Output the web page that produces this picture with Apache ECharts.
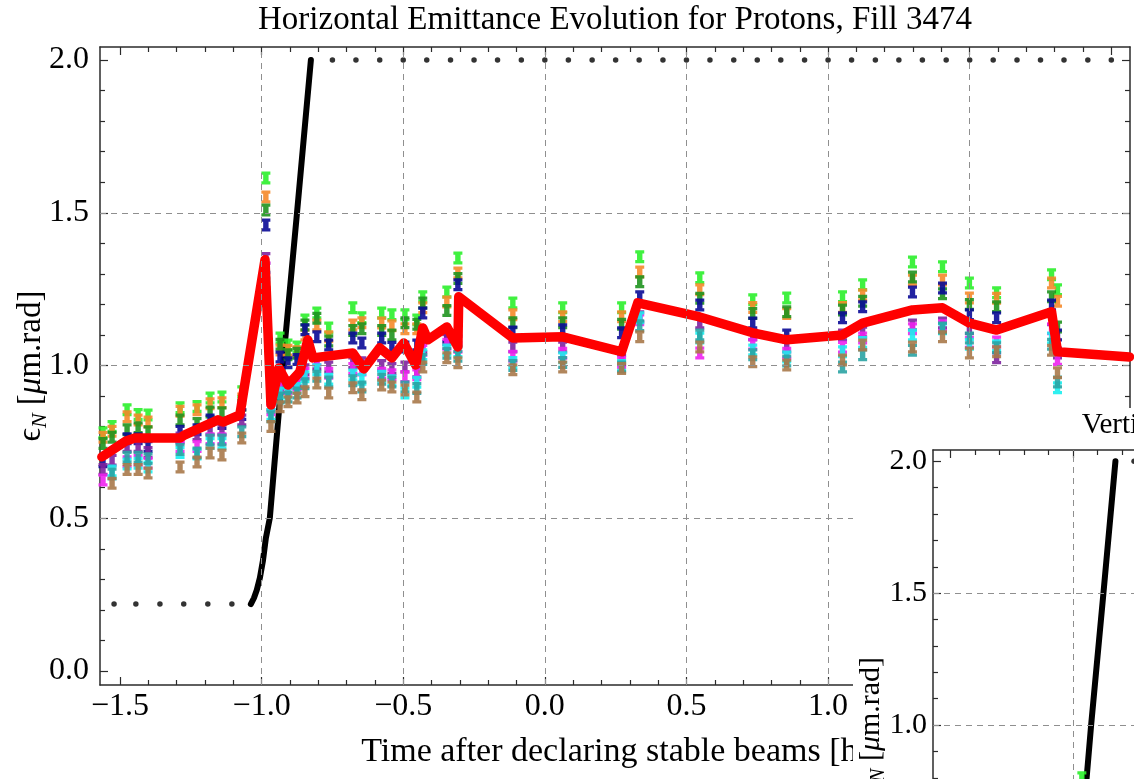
<!DOCTYPE html>
<html>
<head>
<meta charset="utf-8">
<script src="https://cdn.jsdelivr.net/npm/echarts@6/dist/echarts.min.js"></script>
<style>
  html, body { margin: 0; padding: 0; background: #fff; overflow: hidden; }
  #main { position: absolute; left: 0; top: 0; width: 1134px; height: 779px; }
  #inset { position: absolute; left: 853px; top: 408px; width: 1000px; height: 700px; background: #fff; }
</style>
</head>
<body>
<div id="main"></div>
<div id="inset"></div>
<script>
const FONT = "'Liberation Serif', 'Times New Roman', serif"
const X_MIN = -1.5706
const X_MAX = 2.066
const Y_MIN = -0.0458
const Y_MAX = 2.0426

// frame ticks and grid lines
const majorX = [-1.5, -1.0, -0.5, 0.0, 0.5, 1.0, 1.5, 2.0]
const minorX = [-1.4, -1.3, -1.2, -1.1, -0.9, -0.8, -0.7, -0.6, -0.4, -0.3, -0.2, -0.1,
  0.1, 0.2, 0.3, 0.4, 0.6, 0.7, 0.8, 0.9, 1.1, 1.2, 1.3, 1.4, 1.6, 1.7, 1.8, 1.9]
const majorY = [0.0, 0.5, 1.0, 1.5, 2.0]
const minorY = [0.1, 0.2, 0.3, 0.4, 0.6, 0.7, 0.8, 0.9, 1.1, 1.2, 1.3, 1.4, 1.6, 1.7, 1.8, 1.9]
const gridX = [-1.0, -0.5, 0.0, 0.5, 1.0, 1.5]
const gridY = [0.5, 1.0, 1.5]

// black ramp curve and its flat dotted parts
const rampT = [-1.038, -1.027, -1.017, -1.006, -0.995, -0.985, -0.971, -0.925, -0.875, -0.826]
const rampE = [0.219, 0.239, 0.265, 0.305, 0.363, 0.435, 0.501, 1.002, 1.500, 2.000]
const lowDotT = [-1.521, -1.444, -1.359, -1.275, -1.190, -1.105]
const lowDotE = 0.219
const highDotT = [-0.75, -0.667, -0.583, -0.5, -0.417, -0.333, -0.25, -0.167, -0.083, 0, 0.083, 0.167,
  0.25, 0.333, 0.417, 0.5, 0.583, 0.667, 0.75, 0.833, 0.917, 1.0, 1.083, 1.167, 1.25, 1.333,
  1.417, 1.5, 1.583, 1.667, 1.75, 1.833, 1.917, 2.0]
const highDotE = 2.0

// horizontal emittance per bunch group, one value per time column
const times = [-1.560, -1.528, -1.475, -1.436, -1.401, -1.288, -1.228, -1.182, -1.140, -1.070,
  -0.985, -0.967, -0.935, -0.907, -0.875, -0.847, -0.805, -0.763, -0.678, -0.646,
  -0.576, -0.540, -0.494, -0.452, -0.431, -0.346, -0.307, -0.113, 0.063, 0.271,
  0.335, 0.547, 0.734, 0.854, 1.051, 1.122, 1.298, 1.404, 1.499, 1.595, 1.789, 1.810]
const hLime = [0.78, 0.80, 0.855, 0.84, 0.838, 0.862, 0.866, 0.894, 0.897, 0.914,
  1.614, null, 1.09, 1.067, 1.061, 1.149, 1.172, 1.123, 1.189, 1.156,
  1.172, 1.166, 1.166, 1.149, 1.225, 1.241, 1.352, 1.205, 1.189, 1.189,
  1.356, 1.287, 1.215, 1.221, 1.225, 1.264, 1.339, 1.323, 1.27, 1.238, 1.297, 1.248]
const hOrange = [0.765, 0.785, 0.832, 0.822, 0.815, 0.85, 0.855, 0.875, 0.878, 0.89,
  1.552, null, 1.051, 1.05, 1.045, 1.10, 1.133, 1.094, 1.133, 1.14,
  1.139, 1.13, 1.12, 1.12, 1.189, 1.208, 1.303, 1.166, 1.16, 1.16,
  1.306, 1.248, 1.19, 1.17, 1.19, 1.231, 1.28, 1.28, 1.221, 1.22, 1.27, 1.21]
const hGreen = [0.745, 0.765, 0.79, 0.796, 0.783, 0.822, 0.81, 0.848, 0.845, 0.87,
  1.509, null, 1.07, 1.035, 1.04, 1.133, 1.155, 1.08, 1.115, 1.12,
  1.115, 1.10, 1.14, 1.135, 1.205, 1.18, 1.285, 1.14, 1.14, 1.135,
  1.274, 1.22, 1.17, 1.176, 1.182, 1.21, 1.29, 1.235, 1.20, 1.192, 1.225, 1.126]
const hNavy = [0.685, null, 0.76, 0.76, 0.735, 0.785, 0.79, 0.822, 0.81, 0.84,
  1.46, 0.90, 1.028, 1.009, 1.02, 1.117, 1.094, 1.067, 1.09, 1.074,
  1.09, 1.06, 1.061, 1.067, 1.172, 1.094, 1.264, 1.11, 1.117, 1.107,
  1.225, 1.198, 1.139, 1.10, 1.156, 1.192, 1.241, 1.254, 1.166, 1.156, 1.198, 1.10]
const hPurple = [0.66, 0.69, 0.735, 0.735, 0.715, 0.763, 0.773, 0.789, 0.789, 0.822,
  1.35, 0.871, 0.953, 0.943, 0.95, 0.986, 1.005, 0.995, 1.009, 1.009,
  1.0, 0.99, 0.995, 0.979, 1.061, 1.085, 1.08, 1.061, 1.061, 1.018,
  1.16, 1.139, 1.10, 1.061, 1.10, 1.11, 1.133, 1.139, 1.12, 1.025, 1.15, 1.041]
const hMagenta = [0.625, null, 0.685, 0.69, 0.68, 0.735, 0.735, 0.76, 0.76, null,
  1.32, 0.855, 0.93, 0.925, 0.936, 0.975, 1.018, 0.975, 0.99, 0.985,
  0.975, 0.97, 0.963, 0.97, 1.05, 1.07, 1.06, 1.03, 1.04, 1.01,
  1.15, 1.041, 1.07, 1.04, 1.06, 1.09, 1.12, 1.13, 1.075, 1.077, 1.12, 1.02]
const hCyan = [null, 0.655, 0.678, 0.68, 0.668, 0.715, 0.71, 0.745, 0.745, null,
  1.29, 0.84, 0.91, 0.91, 0.925, 0.963, 0.986, 0.955, 0.969, 0.955,
  0.965, 0.95, 0.91, 0.945, 1.035, 1.051, 1.045, 1.01, 1.025, 1.0,
  1.156, 1.09, 1.051, 1.028, 1.045, 1.075, 1.10, 1.12, 1.07, 1.065, 1.09, 0.927]
const hTeal = [null, 0.645, 0.70, 0.70, 0.695, 0.725, 0.714, 0.756, 0.756, 0.783,
  1.27, 0.832, 0.894, 0.897, 0.91, 0.94, 0.965, 0.946, 0.95, 0.93,
  0.955, 0.946, 0.93, 0.925, 1.02, 1.04, 1.03, 1.0, 1.01, 0.995,
  1.13, 1.10, 1.035, 1.015, 0.995, 1.035, 1.05, 1.123, 1.09, 1.058, 1.07, 0.946]
const hBrown = [null, 0.615, 0.66, 0.66, 0.648, 0.668, 0.684, 0.714, 0.707, 0.763,
  1.24, 0.80, 0.865, 0.881, 0.894, 0.914, 0.943, 0.91, 0.927, 0.904,
  0.936, 0.93, 0.92, 0.897, 0.995, 1.025, 1.009, 0.986, 0.995, 0.99,
  1.094, 1.061, 1.012, 1.002, 1.018, 1.067, 1.061, 1.094, 1.041, 1.045, 1.05, 0.976]

// average (red line)
const avgT = [-1.564, -1.479, -1.447, -1.288, -1.271, -1.154, -1.137, -1.077, -0.988, -0.967,
  -0.939, -0.907, -0.865, -0.837, -0.819, -0.678, -0.639, -0.583, -0.540, -0.498,
  -0.456, -0.431, -0.413, -0.346, -0.307, -0.304, -0.113, 0.063, 0.271, 0.328,
  0.547, 0.734, 0.854, 1.051, 1.122, 1.298, 1.404, 1.499, 1.595, 1.789, 1.810, 2.064]
const avgE = [0.701, 0.753, 0.763, 0.763, 0.773, 0.822, 0.815, 0.838, 1.346, 0.871,
  0.992, 0.936, 0.979, 1.084, 1.025, 1.041, 0.989, 1.058, 1.025, 1.074,
  1.002, 1.123, 1.084, 1.126, 1.061, 1.225, 1.090, 1.094, 1.045, 1.205,
  1.159, 1.107, 1.084, 1.100, 1.139, 1.182, 1.189, 1.139, 1.116, 1.176, 1.045, 1.028]

// vertical plot (inset): only the top of one marker is in view
const vTimes = [-0.963]
const vLime = [0.80]

const groups = [
  { color: '#2bf02b', values: hLime },
  { color: '#f5892a', values: hOrange },
  { color: '#1f941f', values: hGreen },
  { color: '#0a0a96', values: hNavy },
  { color: '#7d229e', values: hPurple },
  { color: '#ee22ee', values: hMagenta },
  { color: '#19eeee', values: hCyan },
  { color: '#2aa3a3', values: hTeal },
  { color: '#a8794a', values: hBrown }
]

const beam = 'path://M0 0H10V2.5H8V7.5H10V10H0V7.5H2V2.5H0Z'

function fmt(v) {
  return (v < 0 ? '\u2212' : '') + Math.abs(v).toFixed(1)
}

function pairs(xs, ys) {
  const out = []
  xs.forEach((x, i) => {
    if (ys[i] !== null && ys[i] !== undefined) out.push([x, ys[i]])
  })
  return out
}

function frameAxes(dim, o) {
  const isX = dim === 'x'
  const pos = isX ? ['bottom', 'top'] : ['left', 'right']
  const major = isX ? majorX : majorY
  const minor = isX ? minorX : minorY
  const tickStyle = { color: '#2b2b2b', width: 1.2 }
  const list = []
  pos.forEach((p, i) => {
    const labelled = i === 0
    list.push(Object.assign({
      type: 'value',
      position: p,
      min: isX ? X_MIN : Y_MIN,
      max: isX ? X_MAX : Y_MAX,
      nameMoveOverlap: false,
      axisLine: { show: true, onZero: false, lineStyle: { color: '#2b2b2b', width: 1.5 } },
      axisTick: { show: true, inside: true, length: 8, customValues: major, lineStyle: tickStyle },
      axisLabel: labelled
        ? { show: true, customValues: major, formatter: fmt, fontFamily: FONT, fontSize: o.font, color: '#000', margin: isX ? o.xMargin : o.yMargin }
        : { show: false },
      splitLine: { show: false }
    }, labelled ? o.names[dim] : {}))
    list.push({
      type: 'value',
      position: p,
      min: isX ? X_MIN : Y_MIN,
      max: isX ? X_MAX : Y_MAX,
      axisLine: { show: false, onZero: false },
      axisTick: { show: true, inside: true, length: 5, customValues: minor, lineStyle: tickStyle },
      axisLabel: { show: false },
      splitLine: { show: false }
    })
  })
  return list
}

function yName(size, gap) {
  return {
    name: '{e|\u03f5}{s|N} [{m|\u03bc}m.rad]',
    nameLocation: 'middle',
    nameGap: gap,
    nameTextStyle: {
      fontFamily: FONT, fontSize: size, color: '#000', lineHeight: size + 6,
      rich: {
        e: { fontFamily: FONT, fontSize: size, lineHeight: size + 6 },
        s: { fontFamily: FONT, fontSize: Math.round(size * 0.66), fontStyle: 'italic', lineHeight: Math.round(size * 0.6), verticalAlign: 'bottom' },
        m: { fontFamily: FONT, fontSize: size, fontStyle: 'italic', lineHeight: size + 6 }
      }
    }
  }
}

function xName(size, gap) {
  return {
    name: 'Time after declaring stable beams [h]',
    nameLocation: 'middle',
    nameGap: gap,
    nameTextStyle: { fontFamily: FONT, fontSize: size, color: '#000' }
  }
}

function baseSeries() {
  return [
    {
      type: 'line',
      data: [],
      z: 1,
      silent: true,
      markLine: {
        silent: true,
        animation: false,
        symbol: ['none', 'none'],
        label: { show: false },
        lineStyle: { color: '#8f8f8f', type: [6, 5], width: 1 },
        data: gridX.map((v) => ({ xAxis: v })).concat(gridY.map((v) => ({ yAxis: v })))
      }
    },
    {
      type: 'line',
      data: pairs(rampT, rampE),
      z: 2,
      showSymbol: false,
      lineStyle: { color: '#000', width: 6, cap: 'round', join: 'round' }
    },
    {
      type: 'scatter',
      data: lowDotT.map((t) => [t, lowDotE]).concat(highDotT.map((t) => [t, highDotE])),
      z: 2,
      symbol: 'circle',
      symbolSize: 5.5,
      itemStyle: { color: '#000' }
    }
  ]
}

function makeOption(o) {
  return {
    animation: false,
    grid: Object.assign({ containLabel: false, outerBoundsMode: 'none' }, o.grid),
    xAxis: frameAxes('x', o),
    yAxis: frameAxes('y', o),
    graphic: [{
      type: 'text',
      x: o.title.x,
      y: o.title.y,
      style: {
        text: o.title.text,
        font: o.title.size + 'px ' + FONT,
        fill: '#000',
        textAlign: 'center',
        textVerticalAlign: 'middle'
      }
    }],
    series: baseSeries().concat(o.series)
  }
}

const mainSeries = groups.map((g) => ({
  type: 'scatter',
  data: pairs(times, g.values),
  z: 3,
  symbol: beam,
  symbolSize: [9, 13],
  itemStyle: { color: g.color, opacity: 0.9 }
})).concat([{
  type: 'line',
  data: pairs(avgT, avgE),
  z: 4,
  showSymbol: false,
  lineStyle: { color: '#ff0000', width: 9.5, join: 'round', cap: 'round' }
}])

const mainChart = echarts.init(document.getElementById('main'))
mainChart.setOption(makeOption({
  grid: { left: 100, top: 47, width: 1030, height: 638 },
  font: 32,
  xMargin: 6,
  yMargin: 11,
  names: { x: xName(34, 50), y: yName(33, 49) },
  title: { text: 'Horizontal Emittance Evolution for Protons, Fill 3474', x: 615, y: 20, size: 33 },
  series: mainSeries
}))

const insetChart = echarts.init(document.getElementById('inset'))
insetChart.setOption(makeOption({
  grid: { left: 80, top: 42, width: 891, height: 551 },
  font: 30,
  xMargin: 6,
  yMargin: 6,
  names: { x: xName(29, 44), y: yName(30, 44) },
  title: { text: 'Vertical Emittance Evolution for Protons, Fill 3474', x: 525.5, y: 17, size: 29 },
  series: [{
    type: 'scatter',
    data: pairs(vTimes, vLime),
    z: 3,
    symbol: beam,
    symbolSize: [9, 13],
    itemStyle: { color: '#2bf02b', opacity: 0.9 }
  }]
}))
</script>
</body>
</html>
